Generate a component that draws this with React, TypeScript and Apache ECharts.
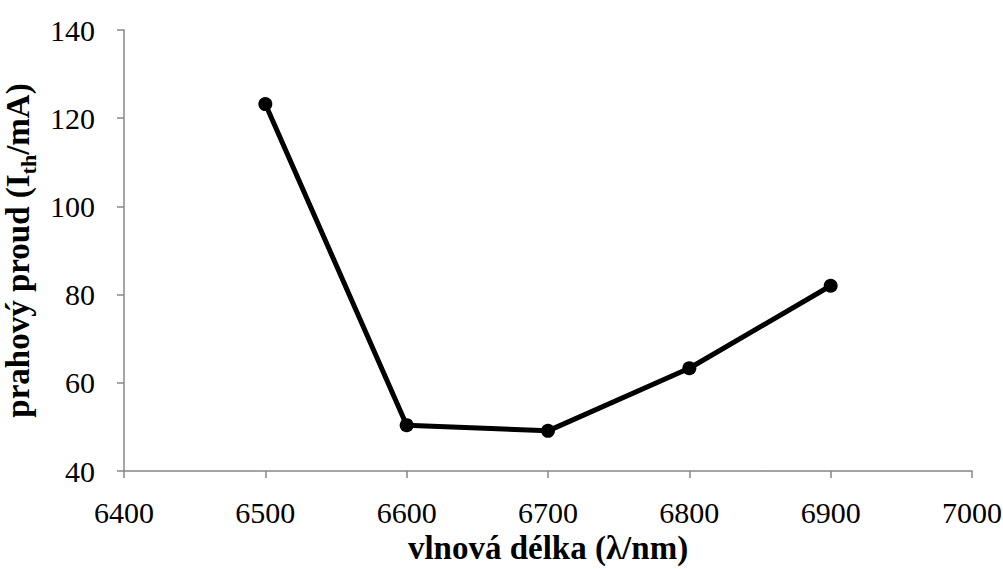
import React, { useEffect, useRef } from "react";
import * as echarts from "echarts";

const wavelengths = [6500, 6600, 6700, 6800, 6900];
const thresholdCurrent = [123.2, 50.4, 49.1, 63.3, 82.0];
const xTicks = { min: 6400, max: 7000, interval: 100 };
const yTicks = { min: 40, max: 140, interval: 20 };

const FONT = "'Liberation Serif', 'Times New Roman', serif";

export default function App() {
  const ref = useRef<HTMLDivElement>(null);
  useEffect(() => {
    if (!ref.current) return;
    const chart = echarts.init(ref.current, null, { renderer: "svg" });
    const axisLine = { lineStyle: { color: "#878787", width: 1.5 } };
    chart.setOption({
      animation: false,
      backgroundColor: "#ffffff",
      grid: { left: 124, right: 31, top: 30, bottom: 98, containLabel: false, outerBoundsMode: "none" },
      xAxis: {
        type: "value",
        min: xTicks.min,
        max: xTicks.max,
        interval: xTicks.interval,
        splitLine: { show: false },
        axisLine: { show: true, ...axisLine },
        axisTick: { show: true, length: 7, lineStyle: { color: "#878787", width: 1.5 } },
        axisLabel: { color: "#000", fontFamily: FONT, fontSize: 30, margin: 26, formatter: (v: number) => String(v) },
        name: "vlnová délka (λ/nm)",
        nameLocation: "middle",
        nameGap: 60,
        nameTextStyle: { color: "#000", fontFamily: FONT, fontSize: 33, fontWeight: "bold" },
      },
      yAxis: {
        type: "value",
        min: yTicks.min,
        max: yTicks.max,
        interval: yTicks.interval,
        splitLine: { show: false },
        axisLine: { show: true, ...axisLine },
        axisTick: { show: true, length: 7, lineStyle: { color: "#878787", width: 1.5 } },
        axisLabel: { color: "#000", fontFamily: FONT, fontSize: 30, margin: 29, formatter: (v: number) => String(v) },
        name: "{a|prahový proud (I}{s|th}{a|/mA)}",
        nameLocation: "middle",
        nameGap: 76,
        nameTextStyle: {
          color: "#000",
          fontFamily: FONT,
          fontSize: 33,
          fontWeight: "bold",
          rich: {
            a: { fontFamily: FONT, fontSize: 33, fontWeight: "bold", color: "#000", lineHeight: 33, verticalAlign: "top" },
            s: { fontFamily: FONT, fontSize: 22, fontWeight: "bold", color: "#000", lineHeight: 22, verticalAlign: "top", padding: [16, 0, 0, 0] },
          },
        },
      },
      series: [
        {
          type: "line",
          data: wavelengths.map((w, i) => [w, thresholdCurrent[i]]),
          symbol: "circle",
          symbolSize: 14,
          lineStyle: { color: "#000", width: 5 },
          itemStyle: { color: "#000" },
        },
      ],
    });
    return () => chart.dispose();
  }, []);
  return <div ref={ref} style={{ width: 1003, height: 569, position: "absolute", left: 0, top: 0 }} />;
}
